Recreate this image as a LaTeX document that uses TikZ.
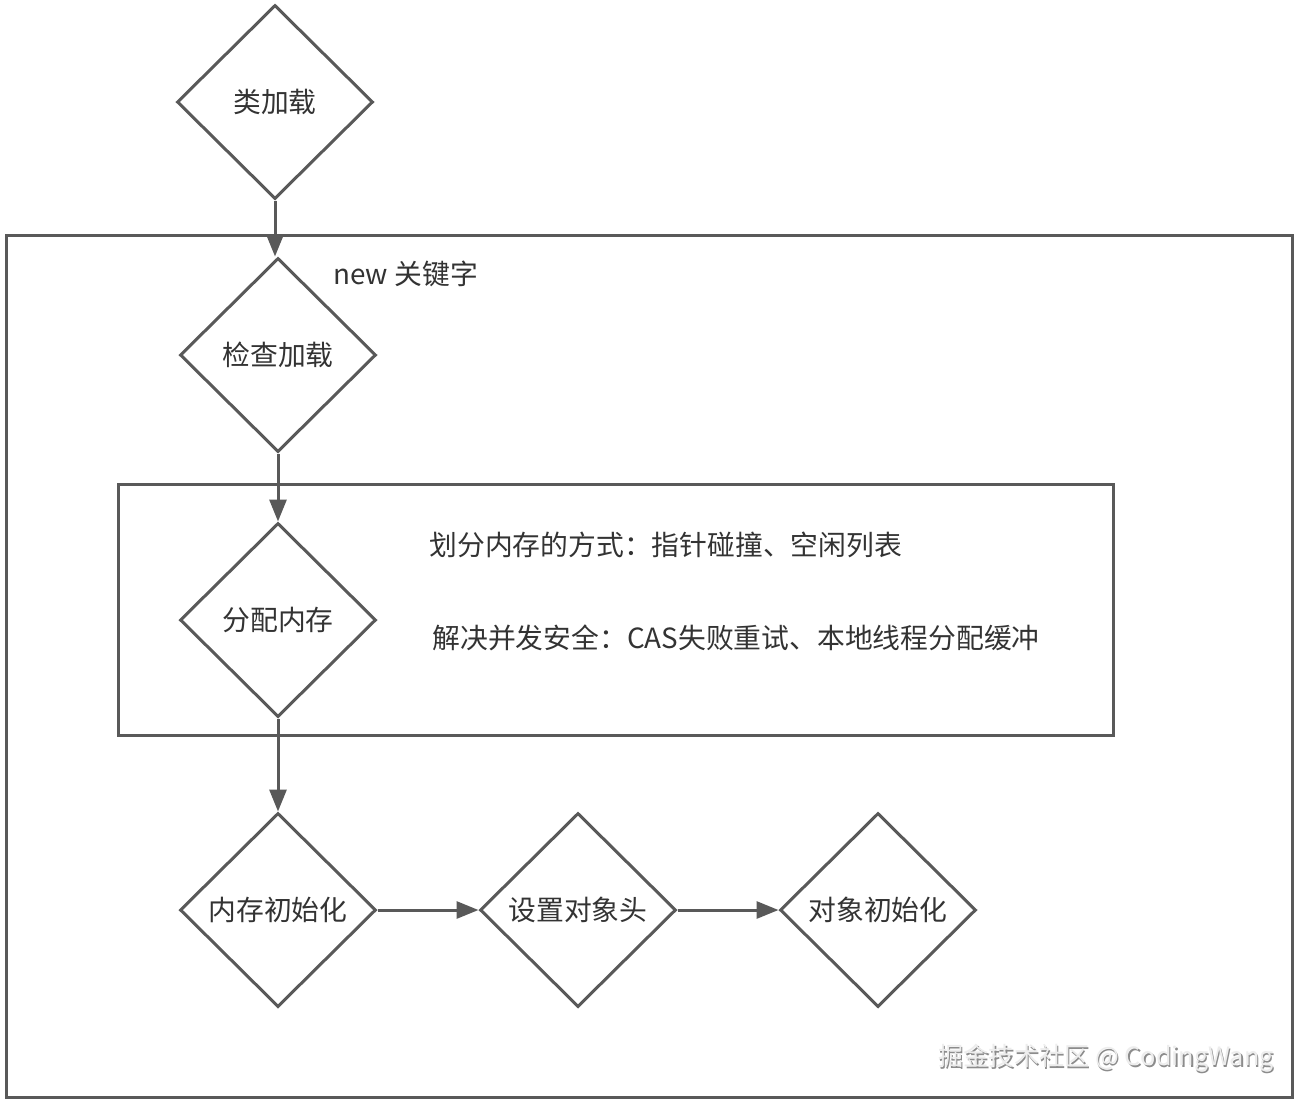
\documentclass[tikz,border=0pt]{standalone}
\usepackage{fontspec}
\setmainfont{Noto Sans CJK SC}
\usetikzlibrary{shapes.geometric,arrows.meta}
\definecolor{lc}{HTML}{595959}
\definecolor{tc}{HTML}{333333}
\begin{document}
\begin{tikzpicture}[x=0.5pt,y=-0.5pt,
  dia/.style={shape=diamond,draw=lc,line width=1.5pt,minimum width=98pt,minimum height=97pt,inner sep=1pt,text=tc,font=\fontsize{13.9}{16}\selectfont},
  box/.style={draw=lc,line width=1.5pt},
  arr/.style={draw=lc,line width=1.5pt,-{Triangle[length=11pt,width=8.5pt]}},
  txt/.style={text=tc,inner sep=0pt,anchor=west,font=\fontsize{13.9}{16}\selectfont},
  wmk/.style={inner sep=0pt,anchor=west,font=\fontsize{12.6}{15}\selectfont}]
\useasboundingbox (0,0) rectangle (1302,1104);
\fill[white] (0,0) rectangle (1302,1104);
\draw[box] (6,235) rectangle (1292,1097);
\draw[box] (118,484) rectangle (1113,735);
\node[dia] (d1) at (275,102) {类加载};
\node[dia] (d2) at (278,355) {检查加载};
\node[dia] (d3) at (278,620) {分配内存};
\node[dia] (d4) at (278,910) {内存初始化};
\node[dia] (d5) at (578,910) {设置对象头};
\node[dia] (d6) at (878,910) {对象初始化};
\node[txt] (newkw) at (333,274) {new 关键字};
\node[txt] (t1) at (429,545) {划分内存的方式：指针碰撞、空闲列表};
\node[txt] (t2) at (432,638) {解决并发安全：CAS失败重试、本地线程分配缓冲};
\node[wmk,text=gray!90] (wms) at (939.5,1059.5) {掘金技术社区 @ CodingWang};
\node[wmk,text=white!93!black] (wm) at (938,1058) {掘金技术社区 @ CodingWang};
\draw[arr] (d1.south) -- (d1.south |- d2.north);
\draw[arr] (d2.south) -- (d3.north);
\draw[arr] (d3.south) -- (d4.north);
\draw[arr] (d4.east) -- (d5.west);
\draw[arr] (d5.east) -- (d6.west);
\end{tikzpicture}
\end{document}
